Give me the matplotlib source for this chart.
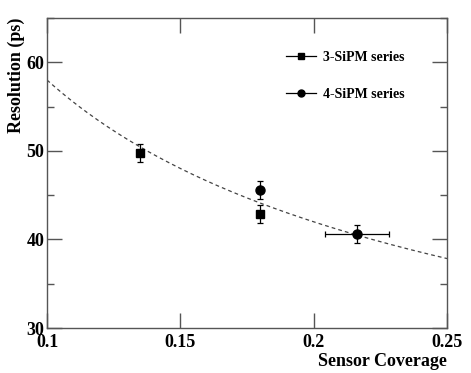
import numpy as np
import matplotlib
matplotlib.use("Agg")
import matplotlib.pyplot as plt
from matplotlib.lines import Line2D
from matplotlib.ticker import MultipleLocator

plt.rcParams['font.family'] = ['Liberation Serif', 'DejaVu Serif']
plt.rcParams['font.weight'] = 'bold'

# Data
sipm3_x = [0.135, 0.180]
sipm3_y = [49.8, 42.9]
sipm3_yerr = [1.0, 1.0]

sipm4_x = [0.180, 0.2163]
sipm4_y = [45.6, 40.6]
sipm4_yerr = [1.0, 1.0]
sipm4_xerr = [0.0, 0.012]

# Fit curve parameters: y = fit_a * (x / 0.1) ** fit_p
fit_a = 58.0
fit_p = -0.466
fit_xmin, fit_xmax = 0.1, 0.25

x_ticks = [0.1, 0.15, 0.2, 0.25]
x_ticklabels = ['0.1', '0.15', '0.2', '0.25']
y_ticks = [30, 40, 50, 60]

fig = plt.figure(figsize=(4.71, 3.73), dpi=100)
ax = fig.add_axes([0.0998, 0.1206, 0.8493, 0.8311])

xf = np.linspace(fit_xmin, fit_xmax, 200)
ax.plot(xf, fit_a * (xf / 0.1) ** fit_p, color='#444444', lw=0.9,
        linestyle=(0, (3, 2.5)), zorder=1)

ax.errorbar(sipm3_x, sipm3_y, yerr=sipm3_yerr, fmt='s', color='black',
            ms=6, elinewidth=0.9, capsize=2, capthick=0.9, zorder=3)
ax.errorbar(sipm4_x, sipm4_y, yerr=sipm4_yerr, xerr=sipm4_xerr, fmt='o',
            color='black', ms=6.5, elinewidth=0.9, capsize=2, capthick=0.9, zorder=3)

ax.set_xlim(0.1, 0.25)
ax.set_ylim(30, 65)
ax.set_xticks(x_ticks)
ax.set_xticklabels(x_ticklabels)
ax.set_yticks(y_ticks)
ax.yaxis.set_minor_locator(MultipleLocator(5))

for sp in ax.spines.values():
    sp.set_color('#555555')
    sp.set_linewidth(1.0)

ax.tick_params(axis='both', which='major', direction='in', length=11,
               width=1.0, color='#555555', labelsize=13, pad=2,
               top=True, right=True)
ax.tick_params(axis='y', which='minor', direction='in', length=5,
               width=1.0, color='#555555', right=True)
ax.tick_params(axis='x', which='major', pad=4)
for lab in ax.get_xticklabels() + ax.get_yticklabels():
    lab.set_fontweight('bold')

ax.set_xlabel('Sensor Coverage', fontsize=13, fontweight='bold', loc='right', labelpad=2)
ax.set_ylabel('Resolution (ps)', fontsize=13, fontweight='bold', loc='top', labelpad=1)

handles = [
    Line2D([], [], color='black', lw=0.9, marker='s', ms=5),
    Line2D([], [], color='black', lw=0.9, marker='o', ms=5),
]
leg = ax.legend(handles, ['3-SiPM series', '4-SiPM series'], frameon=False,
                loc='upper left', bbox_to_anchor=(0.565, 0.935),
                prop={'family': 'Liberation Serif', 'weight': 'bold', 'size': 10},
                handlelength=2.2, handletextpad=0.5, labelspacing=1.75)

fig.savefig('out.png', dpi=100)
